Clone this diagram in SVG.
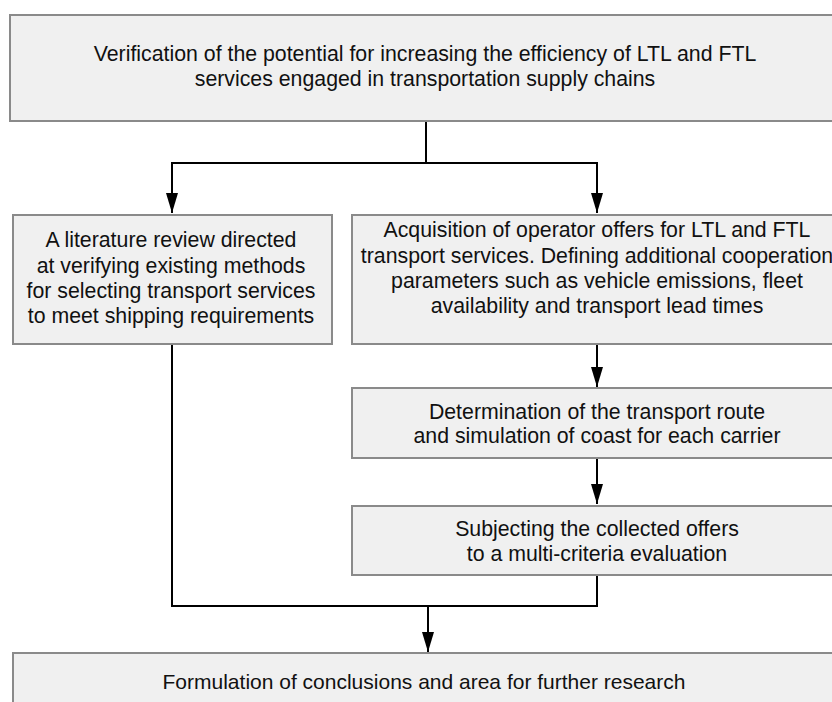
<svg xmlns="http://www.w3.org/2000/svg" width="832" height="702" viewBox="0 0 832 702">
<style>
.box{fill:#f0f0f0;stroke:#8a8a8a;stroke-width:2}
.t{font-family:"Liberation Sans",Arial,sans-serif;font-size:21.3px;fill:#111;text-anchor:middle}
.c{fill:none;stroke:#000;stroke-width:2}
</style>
<defs>
<marker id="ah" markerUnits="userSpaceOnUse" markerWidth="20" markerHeight="12" refX="20" refY="6" orient="auto">
<path d="M0,0 L20,6 L0,12 z" fill="#000"/>
</marker>
</defs>
<rect width="832" height="702" fill="#fff"/>
<g id="connectors">
<path class="c" d="M426,122 V163"/>
<path class="c" d="M427,163 H172 V213" marker-end="url(#ah)"/>
<path class="c" d="M425,163 H597 V213" marker-end="url(#ah)"/>
<path class="c" d="M597,345 V387" marker-end="url(#ah)"/>
<path class="c" d="M597,459 V504" marker-end="url(#ah)"/>
<path class="c" d="M172,345 V606 H597 V576"/>
<path class="c" d="M428,606 V652" marker-end="url(#ah)"/>
</g>
<g id="n1">
<rect class="box" x="10" y="15" width="840" height="106"/>
<text class="t" x="425" y="61">Verification of the potential for increasing the efficiency of LTL and FTL</text>
<text class="t" x="425" y="86">services engaged in transportation supply chains</text>
</g>
<g id="n2">
<rect class="box" x="13" y="215" width="319" height="129"/>
<text class="t" x="171" y="247">A literature review directed</text>
<text class="t" x="171" y="273">at verifying existing methods</text>
<text class="t" x="171" y="298">for selecting transport services</text>
<text class="t" x="171" y="323">to meet shipping requirements</text>
</g>
<g id="n3">
<rect class="box" x="352" y="215" width="492" height="129"/>
<text class="t" x="597" y="237">Acquisition of operator offers for LTL and FTL</text>
<text class="t" x="597" y="263">transport services. Defining additional cooperation</text>
<text class="t" x="597" y="288">parameters such as vehicle emissions, fleet</text>
<text class="t" x="597" y="313">availability and transport lead times</text>
</g>
<g id="n4">
<rect class="box" x="352" y="388" width="492" height="70"/>
<text class="t" x="597" y="419">Determination of the transport route</text>
<text class="t" x="597" y="443">and simulation of coast for each carrier</text>
</g>
<g id="n5">
<rect class="box" x="352" y="506" width="492" height="69"/>
<text class="t" x="597" y="536">Subjecting the collected offers</text>
<text class="t" x="597" y="561">to a multi-criteria evaluation</text>
</g>
<g id="n6">
<rect class="box" x="13" y="653" width="840" height="80"/>
<text class="t" x="424" y="689" style="font-size:21px">Formulation of conclusions and area for further research</text>
</g>
</svg>
